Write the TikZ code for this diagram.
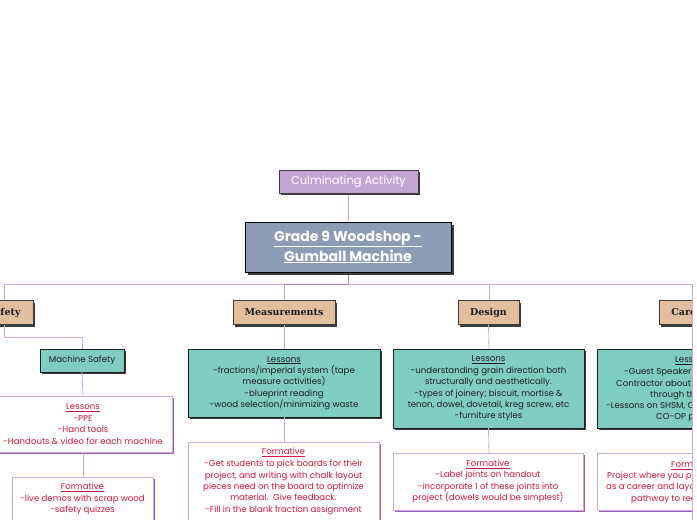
\documentclass[tikz,border=0pt]{standalone}
\usepackage{fontspec}
\setmainfont{Poppins}
\newfontfamily\catfont{DejaVu Serif}
\usetikzlibrary{shadows}
\definecolor{lpurple}{HTML}{C9ABDC}
\definecolor{mpurple}{HTML}{A57CC6}
\definecolor{dpurple}{HTML}{9562B5}
\definecolor{tealf}{HTML}{7FCDC1}
\definecolor{tanf}{HTML}{E1BE9E}
\definecolor{mainf}{HTML}{8A9DB4}
\definecolor{culf}{HTML}{C3A5D3}
\definecolor{redt}{HTML}{D0173C}
\definecolor{darkt}{HTML}{1E1E1E}
\definecolor{shad}{HTML}{3C3C3C}
\tikzset{
  shape box/.style={rectangle, inner sep=0pt, outer sep=0pt},
  darkshadow/.style={drop shadow={shadow xshift=2pt, shadow yshift=-2pt, fill=shad, opacity=1}},
  whitebox/.style={shape box, fill=white, draw=lpurple, line width=0.8pt,
     drop shadow={shadow xshift=1.6pt, shadow yshift=-1.6pt, fill=dpurple, opacity=1}},
  tealbox/.style={shape box, fill=tealf, draw=darkt, line width=0.6pt, darkshadow},
  catbox/.style={shape box, fill=tanf, draw=shad, line width=0.6pt, darkshadow,
     font=\catfont\bfseries\fontsize{9.5}{10}\selectfont, text=darkt},
  conn/.style={draw=lpurple, line width=0.8pt},
  connd/.style={draw=mpurple, line width=0.9pt},
  bodyfont/.style={font=\fontsize{8.6}{11.4}\selectfont},
  redtxt/.style={text=redt, align=center, inner sep=0pt, bodyfont},
  darktxt/.style={text=darkt, align=center, inner sep=0pt, bodyfont},
  frag/.style={inner sep=0pt, anchor=west, bodyfont},
}
\begin{document}
\begin{tikzpicture}[x=1pt,y=-1pt]
\useasboundingbox (0,0) rectangle (697,520);
\coordinate (bus) at (348,284);
\coordinate (bend) at (4,337);
\coordinate (bottom) at (692,520);
\begin{scope}
\clip (0,0) rectangle (692,520);
% connectors
\draw[conn] (bus) -| (4,301);
\draw[conn] (bus) -| (284,301);
\draw[connd] (284,284) -- (489,284);
\draw[conn] (bus) -| (489,301);
\draw[conn] (489,284) -| (692,301);
\draw[connd] (348,270) -- (bus);
\draw[conn] (348,193) -- (348,221);
% culminating + main
\node[shape box, fill=culf, draw=shad, line width=0.6pt, darkshadow, minimum width=139pt, minimum height=23pt,
  text=white, font=\fontsize{11.4}{12}\selectfont] (cul) at (348.5,181.5) {Culminating Activity};
\node[shape box, fill=mainf, draw=black, line width=0.8pt,
  drop shadow={shadow xshift=2.5pt, shadow yshift=-2.5pt, fill=shad, opacity=1},
  minimum width=206pt, minimum height=50pt, text=white, align=center,
  font=\bfseries\fontsize{14}{20}\selectfont] (main) at (348,247)
  {\underline{Grade 9 Woodshop -}\\\underline{Gumball Machine}};
% categories
\node[catbox, minimum width=58pt, minimum height=24pt] (saf) at (4,312.5) {Safety};
\node[catbox, minimum width=102pt, minimum height=24pt] (mea) at (284,312.5) {Measurements};
\node[catbox, minimum width=61pt, minimum height=24pt] (des) at (488.5,312.5) {Design};
\node[catbox, minimum width=66pt, minimum height=24pt] (car) at (692,312.5) {Careers};
% safety column
\draw[conn] (saf.south) -- (bend) -| (82,349);
\node[tealbox, minimum width=84pt, minimum height=23pt, text=darkt, font=\fontsize{8.6}{10}\selectfont] (ms) at (82,360.5) {Machine Safety};
\draw[conn] (ms.south) -- (83,396);
\node[whitebox, minimum width=178pt, minimum height=56pt] (sl) at (83,424) {};
\node[redtxt] (slt) at (sl.center) {\underline{Lessons}\\-PPE\\-Hand tools\\-Handouts \& video for each machine};
\draw[conn] (sl.south) -- (83,477);
\node[whitebox, minimum width=141pt, minimum height=70pt] (sf) at (82.5,512) {};
\node[redtxt, anchor=north] (sft) at (82.5,483) {\underline{Formative}\\-live demos with scrap wood\\-safety quizzes};
% measurements column
\draw[conn] (mea.south) -- (284,349);
\node[tealbox, minimum width=192pt, minimum height=68pt] (ml) at (284,383) {};
\node[darktxt] (mlt) at (ml.center) {\underline{Lessons}\\-fractions/imperial system (tape\\measure activities)\\-blueprint reading\\-wood selection/minimizing waste};
\draw[conn] (ml.south) -- (284,442);
\node[whitebox, minimum width=191pt, minimum height=100pt] (mf) at (283.5,492) {};
\node[redtxt, anchor=north] (mft) at (283.5,447.5) {\underline{Formative}\\[1pt]-Get students to pick boards for their\\project, and writing with chalk layout\\pieces need on the board to optimize\\material.\ \ Give feedback.\\-Fill in the blank fraction assignment};
% design column
\draw[conn] (des.south) -- (489,349);
\node[tealbox, minimum width=191pt, minimum height=79pt] (dl) at (488.5,388.5) {};
\node[darktxt] (dlt) at (dl.center) {\underline{Lessons}\\-understanding grain direction both\\structurally and aesthetically.\\-types of joinery; biscuit, mortise \&\\tenon, dowel, dovetail, kreg screw, etc\\-furniture styles};
\draw[conn] (dl.south) -- (489,453);
\node[whitebox, minimum width=190pt, minimum height=57pt] (df) at (488,481.5) {};
\node[redtxt] (dft) at (df.center) {\underline{Formative}\\-Label joints on handout\\-incorporate 1 of these joints into\\project (dowels would be simplest)};
% careers column
\node[tealbox, minimum width=190pt, minimum height=79pt] (cl) at (692,388.5) {};
\node[whitebox, minimum width=190pt, minimum height=57pt] (cf) at (692,481.5) {};
\node[frag, text=darkt] (cl1) at (675,361) {\underline{Lessons}};
\node[frag, text=darkt] (cl2) at (624,372) {-Guest Speaker -};
\node[frag, text=darkt] (cl3) at (616,383.5) {Contractor about c};
\node[frag, text=darkt] (cl4) at (650,395) {through th};
\node[frag, text=darkt] (cl5) at (606,406.5) {-Lessons on SHSM, C};
\node[frag, text=darkt] (cl6) at (656,418) {CO-OP pr};
\node[frag, text=redt] (cf1) at (671,465) {\underline{Formative}};
\node[frag, text=redt] (cf2) at (607,476) {Project where you pi};
\node[frag, text=redt] (cf3) at (606,487.5) {as a career and layou};
\node[frag, text=redt] (cf4) at (631,499) {pathway to rea};
\end{scope}
\draw[conn] (692,284) -- (bottom);
\end{tikzpicture}
\end{document}
